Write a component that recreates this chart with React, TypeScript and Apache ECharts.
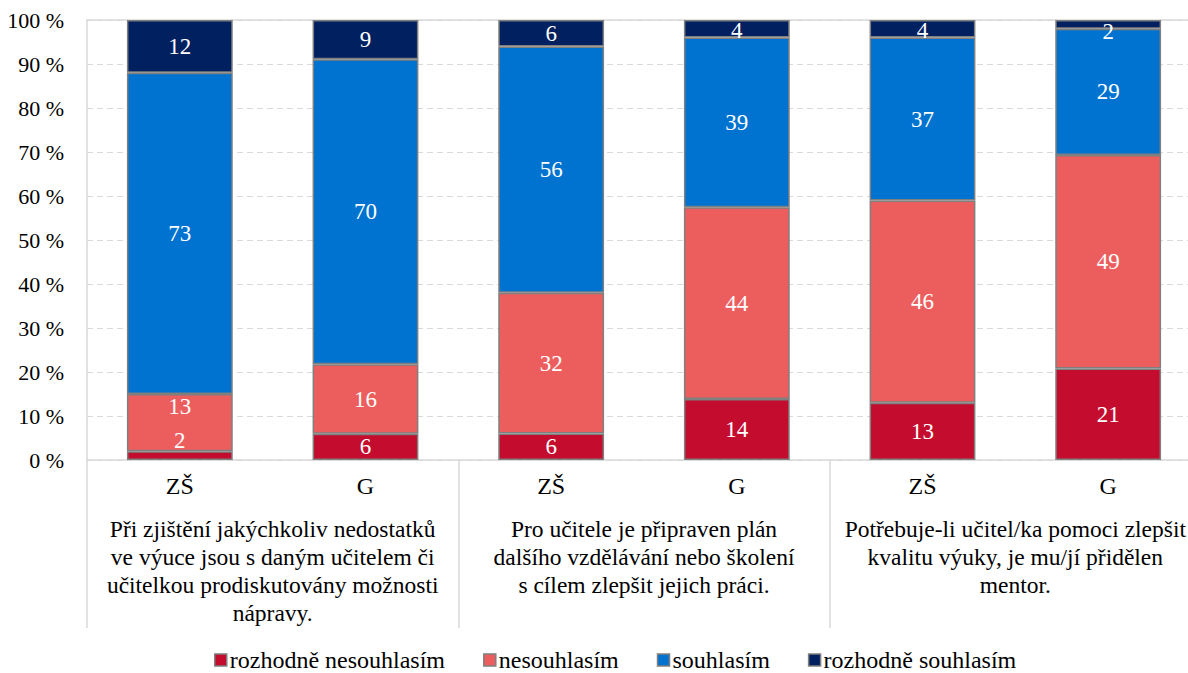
import React, { useEffect, useRef } from "react";
import * as echarts from "echarts";

const categories = ["ZŠ", "G", "ZŠ", "G", "ZŠ", "G"];
const groups = [
  "Při zjištění jakýchkoliv nedostatků\nve výuce jsou s daným učitelem či\nučitelkou prodiskutovány možnosti\nnápravy.",
  "Pro učitele je připraven plán\ndalšího vzdělávání nebo školení\ns cílem zlepšit jejich práci.",
  "Potřebuje-li učitel/ka pomoci zlepšit\nkvalitu výuky, je mu/jí přidělen\nmentor.",
];
const seriesNames = ["rozhodně nesouhlasím", "nesouhlasím", "souhlasím", "rozhodně souhlasím"];
const stronglyDisagree = [2, 6, 6, 14, 13, 21];
const disagree = [13, 16, 32, 44, 46, 49];
const agree = [73, 70, 56, 39, 37, 29];
const stronglyAgree = [12, 9, 6, 4, 4, 2];
const yTicks = [0, 10, 20, 30, 40, 50, 60, 70, 80, 90, 100];

const colors = ["#C40D2E", "#EC5E5E", "#0072CF", "#002060"];
const FONT = "Liberation Serif";

export default function App() {
  const ref = useRef<HTMLDivElement>(null);
  useEffect(() => {
    if (!ref.current) return;
    const chart = echarts.init(ref.current, null, { renderer: "svg" });
    const all = [stronglyDisagree, disagree, agree, stronglyAgree];
    const totals = categories.map((_, i) => all.reduce((s, arr) => s + arr[i], 0));
    const nudges: Record<string, number[]> = {
      "0-0": [0, -15],
      "1-0": [0, -16],
      "3-5": [0, 7],
      "3-4": [0, 2],
      "3-3": [0, 2],
    };
    const series = all.map((arr, si) => ({
      name: seriesNames[si],
      type: "bar",
      stack: "total",
      barWidth: "57%",
      xAxisIndex: 0,
      itemStyle: { color: colors[si], borderColor: "#7F7F7F", borderWidth: 1.5 },
      label: {
        show: true,
        position: "inside",
        color: "#fff",
        fontFamily: FONT,
        fontSize: 23,
        formatter: (p: any) => String(arr[p.dataIndex]),
      },
      data: arr.map((v, i) => {
        const item: any = { value: (v / totals[i]) * 100 };
        const n = nudges[`${si}-${i}`];
        if (n) item.label = { offset: n };
        return item;
      }),
    }));
    chart.setOption({
      animation: false,
      backgroundColor: "#fff",
      textStyle: { fontFamily: FONT },
      grid: { left: 87, right: 0, top: 20, bottom: 213 },
      legend: {
        top: 643,
        left: 209,
        itemWidth: 12,
        itemHeight: 12,
        itemGap: 38,
        icon: "rect",
        textStyle: { fontFamily: FONT, fontSize: 24, color: "#000", padding: [0, 0, 0, -2] },
        data: seriesNames.map((n, i) => ({
          name: n,
          itemStyle: { color: colors[i], borderColor: "#7F7F7F", borderWidth: 1.5 },
        })),
      },
      xAxis: [
        {
          type: "category",
          data: categories,
          position: "bottom",
          axisLine: { show: true, lineStyle: { color: "#D9D9D9", width: 1.5 } },
          axisTick: { show: false },
          axisLabel: {
            color: "#000",
            fontFamily: FONT,
            fontSize: 24,
            lineHeight: 24,
            margin: 14,
            interval: 0,
            verticalAlign: "top",
          },
        },
        {
          type: "category",
          data: groups,
          position: "bottom",
          axisLine: { show: false },
          axisTick: { show: true, length: 168, lineStyle: { color: "#D9D9D9", width: 1.5 } },
          axisLabel: {
            color: "#000",
            fontFamily: FONT,
            fontSize: 23.5,
            lineHeight: 28,
            margin: 55,
            interval: 0,
            align: "center",
            verticalAlign: "top",
          },
        },
        {
          type: "category",
          data: categories,
          position: "top",
          axisLine: { show: true, lineStyle: { color: "#D9D9D9", width: 1.5 } },
          axisTick: { show: false },
          axisLabel: { show: false },
        },
      ],
      yAxis: {
        type: "value",
        min: yTicks[0],
        max: yTicks[yTicks.length - 1],
        interval: yTicks[1] - yTicks[0],
        axisLine: { show: true, lineStyle: { color: "#D9D9D9", width: 1.5 } },
        axisTick: { show: false },
        axisLabel: { color: "#000", fontFamily: FONT, fontSize: 22, margin: 23, formatter: "{value} %" },
        splitLine: { show: true, lineStyle: { color: "#D9D9D9", type: [6, 4], width: 1.2 } },
      },
      series,
    });
    return () => chart.dispose();
  }, []);
  return (
    <div
      style={{ position: "absolute", left: 0, top: 0, width: 1188, height: 673, overflow: "hidden" }}
    >
      <div ref={ref} style={{ width: 1201, height: 673 }} />
    </div>
  );
}
